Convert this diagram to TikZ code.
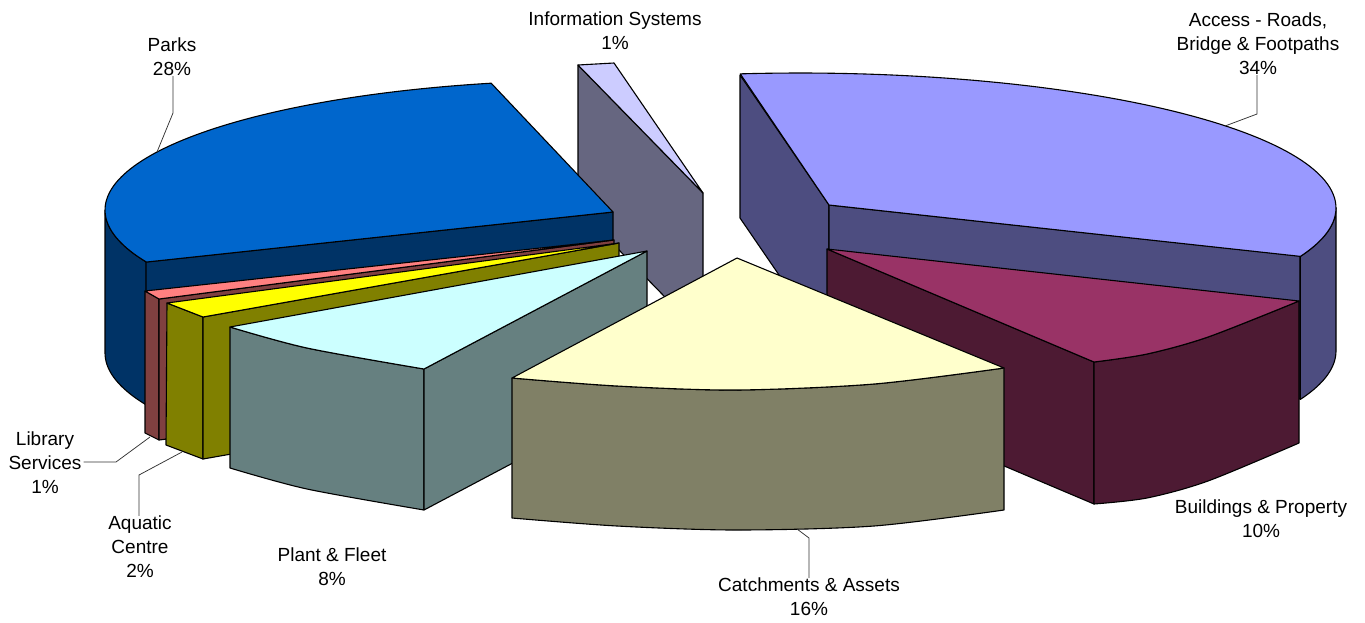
\documentclass[tikz,border=0pt]{standalone}
\usepackage{fontspec}
\setmainfont{Liberation Sans}
\definecolor{parkT}{HTML}{0066CC}
\definecolor{parkS}{HTML}{003366}
\definecolor{infoT}{HTML}{CCCCFF}
\definecolor{infoS}{HTML}{666680}
\definecolor{accT}{HTML}{9999FF}
\definecolor{accS}{HTML}{4D4D80}
\definecolor{bldT}{HTML}{993366}
\definecolor{bldS}{HTML}{4D1A33}
\definecolor{catT}{HTML}{FFFFCC}
\definecolor{catS}{HTML}{808066}
\definecolor{plaT}{HTML}{CCFFFF}
\definecolor{plaS}{HTML}{668080}
\definecolor{aquT}{HTML}{FFFF00}
\definecolor{aquS}{HTML}{808000}
\definecolor{libT}{HTML}{FF8080}
\definecolor{libS}{HTML}{804040}
\begin{document}
\begin{tikzpicture}[x=1pt,y=-1pt,
  face/.style={draw=black,line width=1.1pt,line join=round},
  lbl/.style={align=center,font=\fontsize{19}{24}\selectfont,inner sep=0pt,text=black},
  leader/.style={draw=black!80,line width=0.75pt}]
\useasboundingbox (0,0) rectangle (1365,622);
% ---------- Information Systems ----------
\path[face,fill=infoS] (578,65) -- (703,193) -- (703,336) -- (578,208) -- cycle;
\path[face,fill=infoT] (578,65) -- (614,63) -- (703,193) -- cycle;
% ---------- Access - Roads (ellipse centre (800,208), rx 536, ry 135) ----------
\path[face,fill=accS] (740,75) -- (829,205) -- (829,348) -- (740,218) -- cycle;
\path[face,fill=accS] (829,205) -- (1300,256) -- (1300,399) -- (829,348) -- cycle;
\path[face,fill=accS] plot[domain=0:21,samples=20] ({800+536*cos(\x)},{208+135*sin(\x)})
   -- plot[domain=21:0,samples=20] ({800+536*cos(\x)},{351+135*sin(\x)}) -- cycle;
\path[face,fill=accT] (829,205) -- plot[domain=-96.4:21,samples=80] ({800+536*cos(\x)},{208+135*sin(\x)}) -- cycle;
% ---------- Parks (ellipse centre (600,210), rx 495, ry 130) ----------
\path[face,fill=parkS] plot[domain=180:156.4,samples=20] ({600+495*cos(\x)},{210+130*sin(\x)})
   -- plot[domain=156.4:180,samples=20] ({600+495*cos(\x)},{353+130*sin(\x)}) -- cycle;
\path[face,fill=parkS] (146,262) -- (613,212) -- (613,355) -- (146,405) -- cycle;
\path[face,fill=parkT] (613,212) -- plot[domain=156.4:257.3,samples=80] ({600+495*cos(\x)},{210+130*sin(\x)}) -- cycle;
% ---------- Library Services ----------
\path[face,fill=libS] (145,291) -- (159,299) -- (159,440) -- (145,433) -- cycle;
\path[face,fill=libS] (159,299) -- (614,240) -- (614,383) -- (159,440) -- cycle;
\path[face,fill=libT] (145,291) -- (159,299) -- (614,240) -- cycle;
% ---------- Aquatic Centre ----------
\path[face,fill=aquS] (167,303) -- (203,317) -- (203,459) -- (166,445) -- cycle;
\path[face,fill=aquS] (203,317) -- (619,243) -- (619,386) -- (203,459) -- cycle;
\path[face,fill=aquT] (167,303) -- (203,317) -- (619,243) -- cycle;
% ---------- Plant & Fleet ----------
\path[face,fill=plaS] plot[smooth] coordinates {(230,327) (307,348) (424,369)} -- (424,510)
   -- plot[smooth] coordinates {(424,510) (307,489) (230,468)} -- cycle;
\path[face,fill=plaS] (424,369) -- (647,251) -- (647,392) -- (424,510) -- cycle;
\path[face,fill=plaT] (647,251) -- plot[smooth] coordinates {(230,327) (307,348) (424,369)} -- cycle;
% ---------- Buildings & Property ----------
\path[face,fill=bldS] (827,249) -- (1094,362) -- (1094,504) -- (827,391) -- cycle;
\path[face,fill=bldS] plot[smooth] coordinates {(1094,362) (1147,354) (1208,337) (1299,301)} -- (1299,443)
   -- plot[smooth] coordinates {(1299,443) (1208,481) (1147,498) (1094,504)} -- cycle;
\path[face,fill=bldT] (827,249) -- (1299,301) -- plot[smooth] coordinates {(1299,301) (1208,337) (1147,354) (1094,362)} -- cycle;
% ---------- Catchments & Assets ----------
\path[face,fill=catS] plot[smooth] coordinates {(512,378) (617,386) (736,390) (874,384) (1004,368)} -- (1004,510)
   -- plot[smooth] coordinates {(1004,510) (874,526) (736,530) (617,526) (512,518)} -- cycle;
\path[face,fill=catT] (737,258) -- plot[smooth] coordinates {(512,378) (617,386) (736,390) (874,384) (1004,368)} -- cycle;
% ---------- Labels ----------
\node[lbl] (parks) at (172,57) {Parks\\28\%};
\node[lbl] (info) at (615,31) {Information Systems\\1\%};
\node[lbl] (acc) at (1258,44) {Access - Roads,\\Bridge \& Footpaths\\34\%};
\node[lbl] (bld) at (1261,519) {Buildings \& Property\\10\%};
\node[lbl] (cat) at (809,597) {Catchments \& Assets\\16\%};
\node[lbl] (pla) at (332,567) {Plant \& Fleet\\8\%};
\node[lbl] (aqu) at (140,547) {Aquatic\\Centre\\2\%};
\node[lbl] (lib) at (45,463) {Library\\Services\\1\%};
% ---------- Leaders ----------
\coordinate (parksA) at (173,113); \coordinate (parksB) at (157,152);
\coordinate (accA) at (1257,114); \coordinate (accB) at (1225,126);
\coordinate (libA) at (116,462); \coordinate (libB) at (150,437);
\coordinate (aquA) at (139,475); \coordinate (aquB) at (182,452);
\coordinate (catA) at (809,538); \coordinate (catB) at (797,529);
\draw[leader] (parks.south -| parksA) -- (parksA) -- (parksB);
\draw[leader] (acc.south -| accA) -- (accA) -- (accB);
\draw[leader] ([xshift=2pt]lib.east |- libA) -- (libA) -- (libB);
\draw[leader] (aqu.north -| aquA) -- (aquA) -- (aquB);
\draw[leader] (cat.north -| catA) -- (catA) -- (catB);
\end{tikzpicture}
\end{document}
